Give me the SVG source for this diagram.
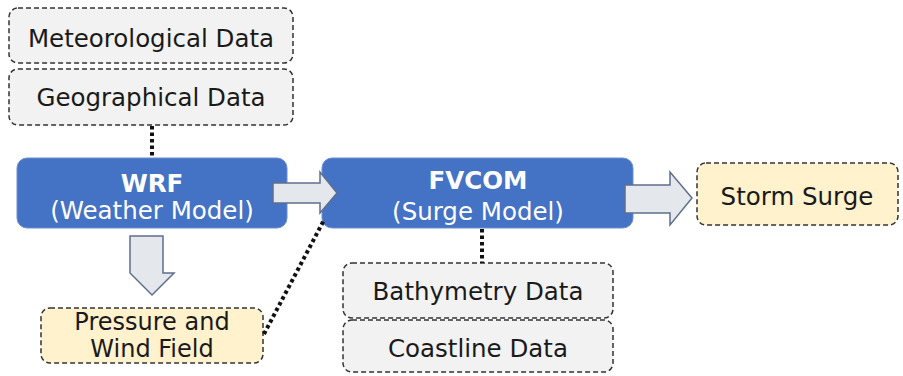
<svg xmlns="http://www.w3.org/2000/svg" width="903" height="376" viewBox="0 0 903 376">
<style>
.data{fill:#F2F2F2;stroke:#333;stroke-width:1.5;stroke-dasharray:5 3}
.out{fill:#FFF2CC;stroke:#333;stroke-width:1.5;stroke-dasharray:5 3}
.model{fill:#4472C4;stroke:#6D8FD0;stroke-width:1}
.arrow{fill:#E4E7EC;stroke:#5E6F8C;stroke-width:1.5;stroke-linejoin:miter}
.dot{fill:none;stroke:#111;stroke-width:4;stroke-dasharray:3.5 3}
text{font-family:"DejaVu Sans",Verdana,sans-serif;font-size:24.5px;text-anchor:middle}
.dk{fill:#1a1a1a}
.wt{fill:#fff}
.b{font-weight:bold}
</style>
<rect width="903" height="376" fill="#fff"/>
<g id="meteorological">
<rect class="data" x="9" y="8" width="284" height="55" rx="9"/>
<text class="dk" x="151" y="47">Meteorological Data</text>
</g>
<g id="geographical">
<rect class="data" x="9" y="69" width="284" height="56" rx="9"/>
<text class="dk" x="151" y="106">Geographical Data</text>
</g>
<g id="wrf">
<rect class="model" x="17" y="158" width="270" height="70" rx="10"/>
<text class="wt b" x="152" y="192">WRF</text>
<text class="wt" x="152" y="219">(Weather Model)</text>
</g>
<g id="pressure">
<rect class="out" x="41" y="308" width="222" height="55" rx="9"/>
<text class="dk" x="152" y="330" style="font-size:24px">Pressure and</text>
<text class="dk" x="152" y="357" style="font-size:24px">Wind Field</text>
</g>
<g id="fvcom">
<rect class="model" x="322" y="158" width="311" height="70" rx="10"/>
<text class="wt b" x="478" y="189">FVCOM</text>
<text class="wt" x="478" y="220">(Surge Model)</text>
</g>
<g id="bathymetry">
<rect class="data" x="343" y="263" width="270" height="55" rx="9"/>
<text class="dk" x="478" y="300">Bathymetry Data</text>
</g>
<g id="coastline">
<rect class="data" x="343" y="320" width="270" height="52" rx="9"/>
<text class="dk" x="478" y="357">Coastline Data</text>
</g>
<g id="storm">
<rect class="out" x="697" y="163" width="201" height="62" rx="9"/>
<text class="dk" x="797" y="205">Storm Surge</text>
</g>
<g id="connectors">
<line class="dot" x1="152" y1="126" x2="152" y2="158"/>
<line class="dot" x1="482" y1="229" x2="482" y2="263"/>
<line class="dot" x1="264" y1="334" x2="324" y2="220"/>
<path class="arrow" d="M130 236 H163 V273 H174 L152 295 L130 273 Z"/>
<path class="arrow" d="M273 183 H320 V172 L337 193 L320 213 V203 H273 Z"/>
<path class="arrow" d="M625 185 H670 V172 L692 198 L670 225 V213 H625 Z"/>
</g>
</svg>
